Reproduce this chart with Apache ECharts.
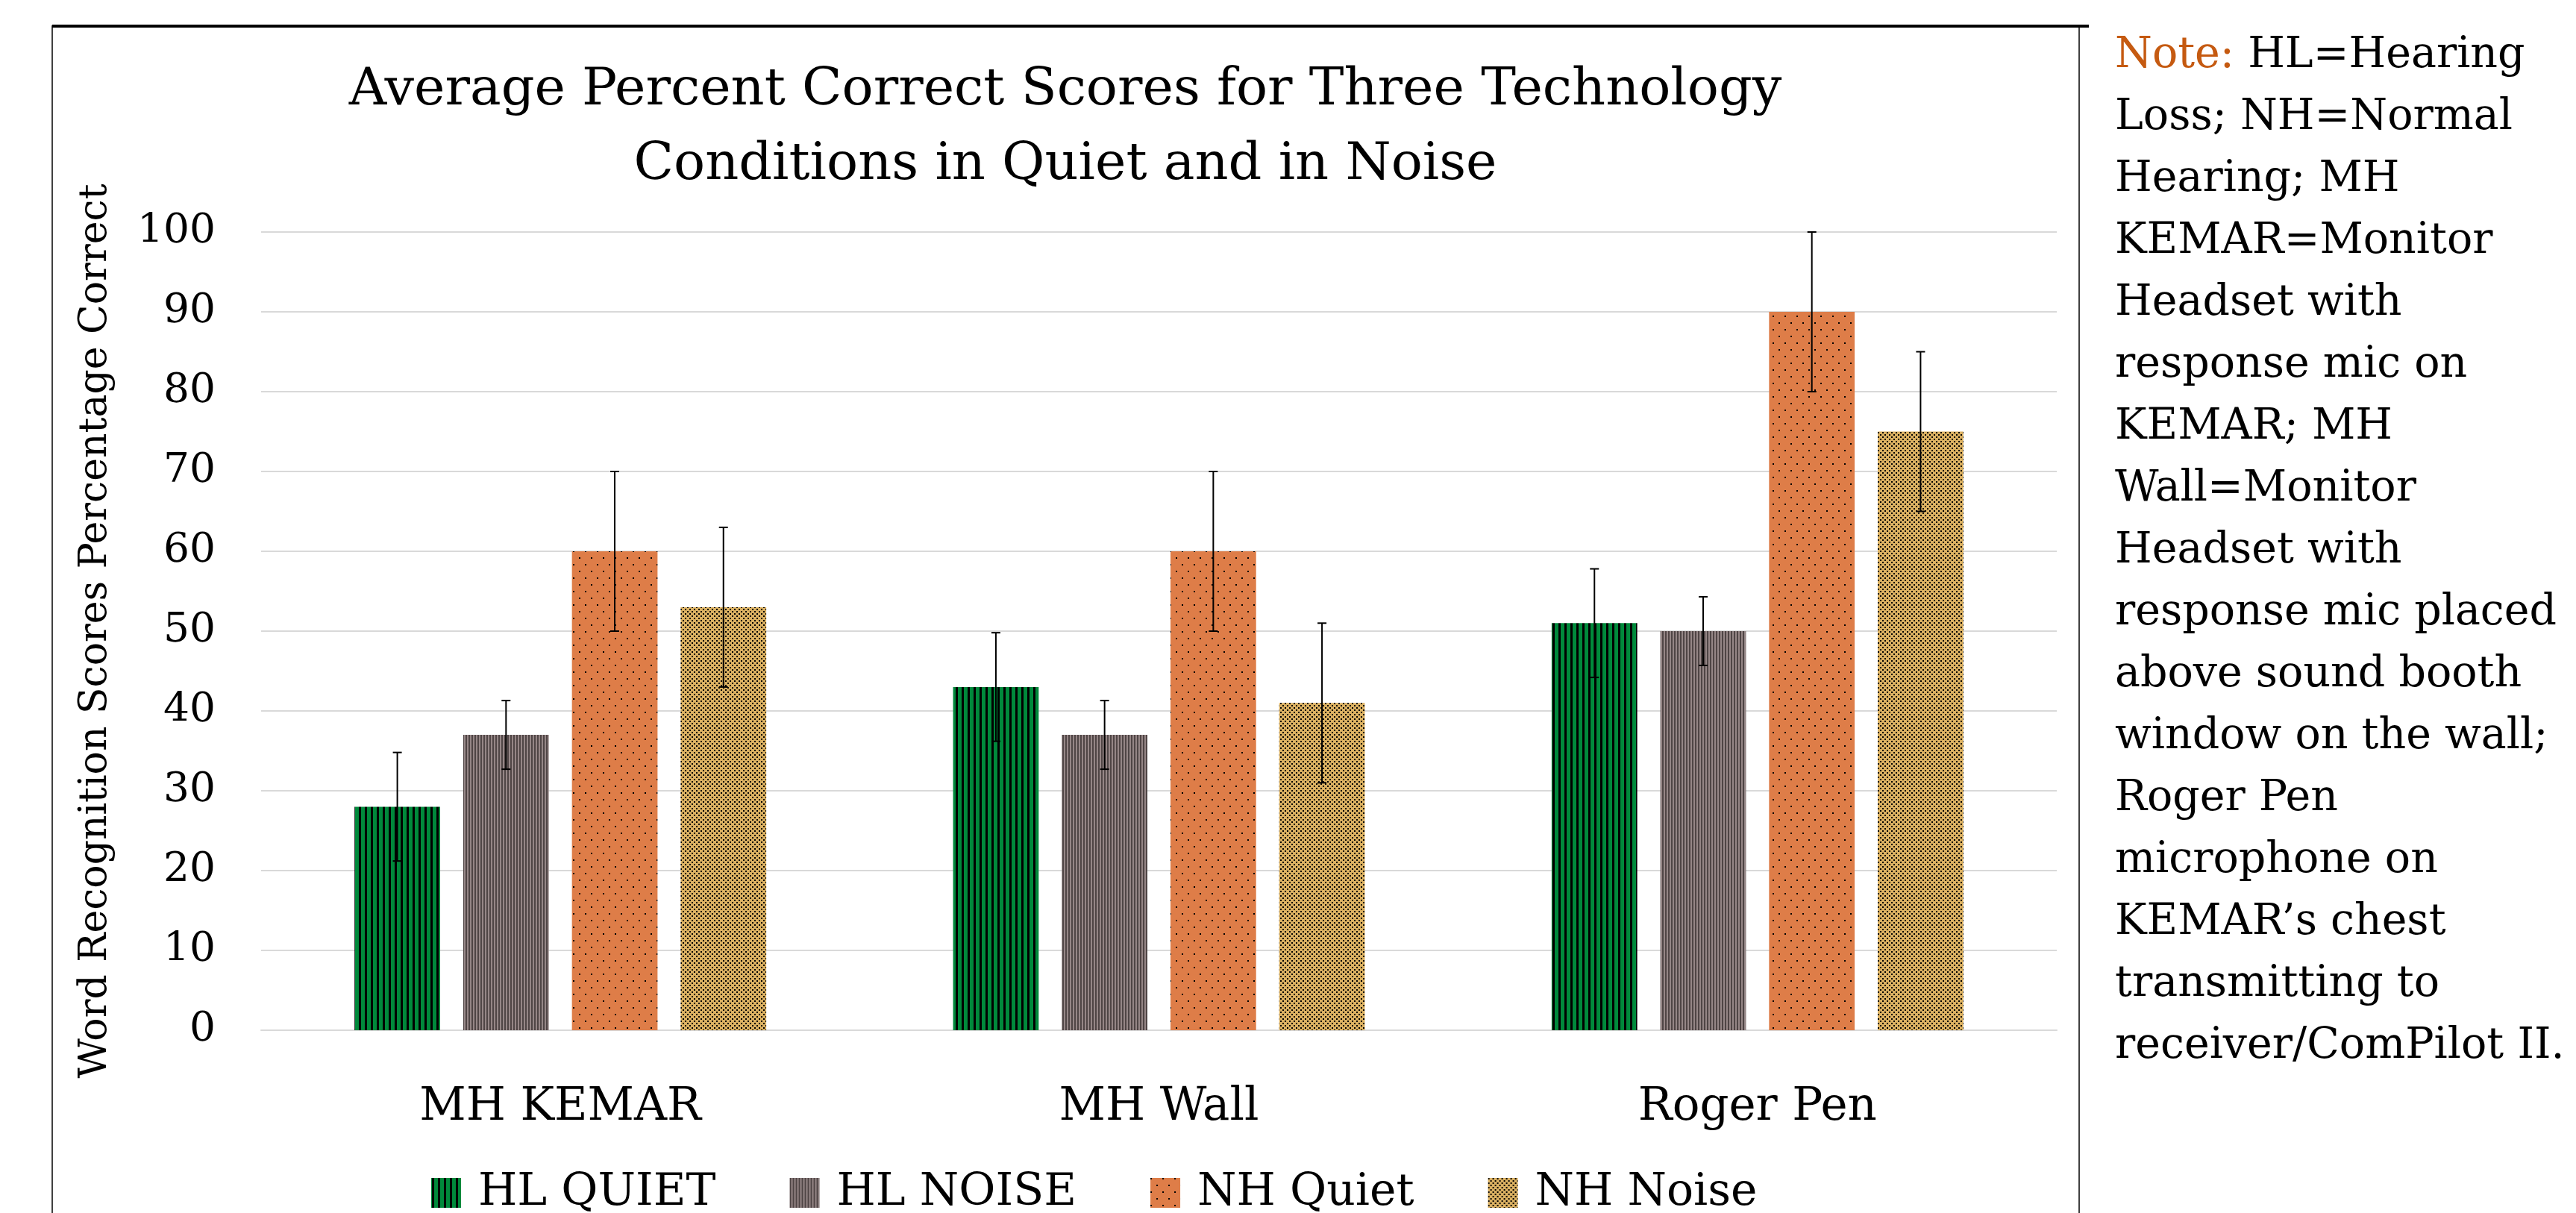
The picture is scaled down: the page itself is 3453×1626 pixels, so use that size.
<!DOCTYPE html>
<html>
<head>
<meta charset="utf-8">
<title>Average Percent Correct Scores</title>
<script src="https://cdn.jsdelivr.net/npm/echarts@6/dist/echarts.min.js"></script>
<style>
  html, body { margin: 0; padding: 0; background: #fff; }
  #main { width: 3453px; height: 1626px; }
</style>
</head>
<body>
<div id="main"></div>
<script>
// data
var categories = ['MH KEMAR', 'MH Wall', 'Roger Pen'];
var seriesNames = ['HL QUIET', 'HL NOISE', 'NH Quiet', 'NH Noise'];
var hlQuiet = [28, 43, 51];
var hlNoise = [37, 37, 50];
var nhQuiet = [60, 60, 90];
var nhNoise = [53, 41, 75];
var hlQuietErr = [6.8, 6.8, 6.8];
var hlNoiseErr = [4.3, 4.3, 4.3];
var nhQuietErr = [10, 10, 10];
var nhNoiseErr = [10, 10, 10];
var yTicks = [0, 10, 20, 30, 40, 50, 60, 70, 80, 90, 100];
var noteLines = [
  'HL=Hearing', 'Loss; NH=Normal', 'Hearing; MH', 'KEMAR=Monitor', 'Headset with',
  'response mic on', 'KEMAR; MH', 'Wall=Monitor', 'Headset with', 'response mic placed',
  'above sound booth', 'window on the wall;', 'Roger Pen', 'microphone on',
  'KEMAR\u2019s chest', 'transmitting to', 'receiver/ComPilot II.'
];

var values = [hlQuiet, hlNoise, nhQuiet, nhNoise];
var errors = [hlQuietErr, hlNoiseErr, nhQuietErr, nhNoiseErr];

var FONT = "'DejaVu Serif', serif";
var BAR_W = 0.143;   // fraction of category band
var BAR_GAP = 0.27;  // fraction of bar width

// fill patterns
function makeTile(w, h, base, draw) {
  var c = document.createElement('canvas');
  c.width = w; c.height = h;
  var ctx = c.getContext('2d');
  ctx.fillStyle = base;
  ctx.fillRect(0, 0, w, h);
  draw(ctx);
  return c;
}
var patterns = [
  makeTile(8, 8, '#00893b', function (ctx) {
    ctx.fillStyle = '#000';
    ctx.fillRect(1, 0, 3, 8);
  }),
  makeTile(4, 4, '#958686', function (ctx) {
    ctx.fillStyle = '#4f4545';
    ctx.fillRect(0, 0, 2, 4);
  }),
  makeTile(16, 18, '#de7d48', function (ctx) {
    ctx.fillStyle = '#000';
    ctx.fillRect(0, 0, 2, 2);
    ctx.fillRect(8, 9, 2, 2);
  }),
  makeTile(6, 6, '#dbb162', function (ctx) {
    ctx.fillStyle = '#000';
    ctx.fillRect(0, 0, 2, 2);
    ctx.fillRect(3, 3, 2, 2);
  })
];

function errorRender(idx) {
  return function (params, api) {
    var x = api.value(0);
    var lo = api.coord([x, api.value(1)]);
    var hi = api.coord([x, api.value(2)]);
    var band = api.size([1, 0])[0];
    var bw = band * BAR_W;
    var gap = bw * BAR_GAP;
    var total = 4 * bw + 3 * gap;
    var cx = lo[0] - total / 2 + bw / 2 + idx * (bw + gap);
    var half = 6;
    var st = { stroke: '#000', lineWidth: 2 };
    return {
      type: 'group',
      children: [
        { type: 'line', shape: { x1: cx, y1: lo[1], x2: cx, y2: hi[1] }, style: st },
        { type: 'line', shape: { x1: cx - half, y1: hi[1], x2: cx + half, y2: hi[1] }, style: st },
        { type: 'line', shape: { x1: cx - half, y1: lo[1], x2: cx + half, y2: lo[1] }, style: st }
      ]
    };
  };
}

var series = [];
seriesNames.forEach(function (name, i) {
  series.push({
    name: name,
    type: 'bar',
    barWidth: (BAR_W * 100) + '%',
    barGap: (BAR_GAP * 100) + '%',
    itemStyle: { color: { image: patterns[i], repeat: 'repeat' } },
    data: values[i]
  });
});
seriesNames.forEach(function (name, i) {
  series.push({
    name: name + ' error',
    type: 'custom',
    z: 5,
    silent: true,
    renderItem: errorRender(i),
    encode: { x: 0, y: [1, 2] },
    data: categories.map(function (c, j) {
      return [j, values[i][j] - errors[i][j], values[i][j] + errors[i][j]];
    })
  });
});

var noteText = '{o|Note:} ' + noteLines.join('\n');

var myChart = echarts.init(document.getElementById('main'));
var option = {
  backgroundColor: '#fff',
  animation: false,
  title: {
    text: 'Average Percent Correct Scores for Three Technology\nConditions in Quiet and in Noise',
    left: 1428,
    textAlign: 'center',
    top: 72,
    padding: 0,
    textStyle: { fontFamily: FONT, fontSize: 70, fontWeight: 'normal', color: '#000', lineHeight: 100 }
  },
  legend: {
    data: seriesNames,
    left: 573,
    top: 1564,
    itemWidth: 40,
    itemHeight: 40,
    itemGap: 99,
    icon: 'rect',
    textStyle: { fontFamily: FONT, fontSize: 60, color: '#000', padding: [0, 0, 0, 18] }
  },
  grid: { left: 350, right: 696, top: 311, bottom: 245 },
  xAxis: {
    type: 'category',
    data: categories,
    axisTick: { show: false },
    axisLine: { lineStyle: { color: '#d9d9d9', width: 2 } },
    axisLabel: { fontFamily: FONT, fontSize: 61, color: '#000', margin: 74 }
  },
  yAxis: {
    type: 'value',
    min: yTicks[0],
    max: yTicks[yTicks.length - 1],
    interval: yTicks[1] - yTicks[0],
    name: 'Word Recognition Scores Percentage Correct',
    nameLocation: 'middle',
    nameGap: 196,
    nameTextStyle: { fontFamily: FONT, fontSize: 52, color: '#000' },
    axisLine: { show: false },
    axisTick: { show: false },
    splitLine: { lineStyle: { color: '#d9d9d9', width: 2 } },
    axisLabel: { fontFamily: FONT, fontSize: 55, color: '#000', margin: 61 }
  },
  graphic: [
    {
      type: 'rect',
      silent: true,
      shape: { x: 70, y: 35, width: 2717, height: 1700 },
      style: { fill: 'none', stroke: '#404040', lineWidth: 2 }
    },
    {
      type: 'line',
      silent: true,
      shape: { x1: 70, y1: 35, x2: 2800, y2: 35 },
      style: { stroke: '#000', lineWidth: 4 }
    },
    {
      type: 'text',
      silent: true,
      x: 2835,
      y: 34,
      style: {
        text: noteText,
        font: '57px ' + FONT,
        fill: '#000',
        lineHeight: 83,
        rich: {
          o: { fill: '#c55a11', font: '57px ' + FONT, lineHeight: 83 }
        }
      }
    }
  ],
  series: series
};
myChart.setOption(option);
</script>
</body>
</html>
